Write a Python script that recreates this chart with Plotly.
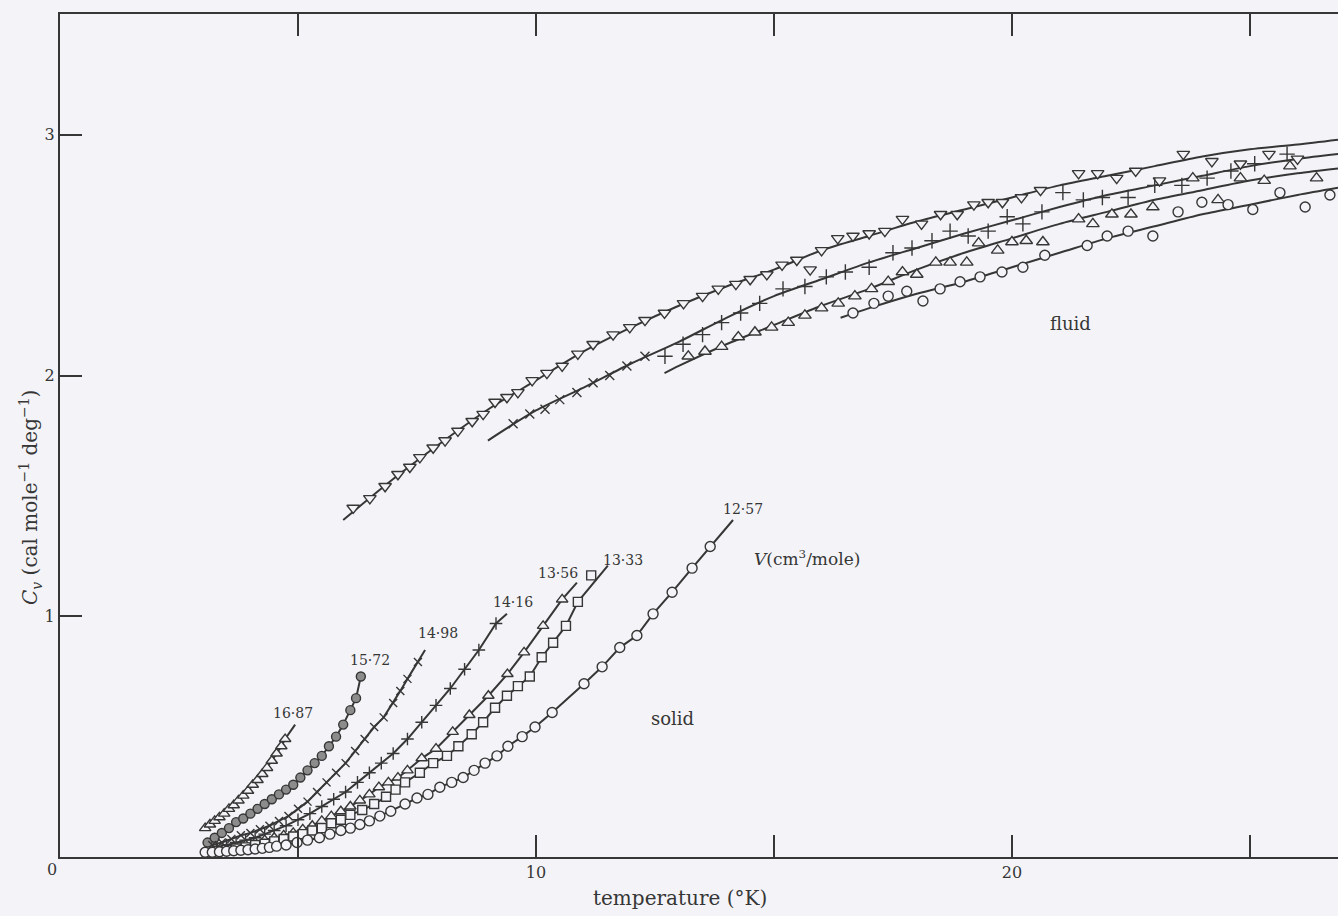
import plotly.graph_objects as go

# ---------------- data ----------------
# solid phase, V = 16.87 cm3/mole (open up-triangles)
s1687_T = [3.05, 3.15, 3.25, 3.35, 3.45, 3.55, 3.65, 3.75, 3.85, 3.95, 4.05, 4.15, 4.25, 4.35, 4.45, 4.55, 4.65, 4.73]
s1687_C = [0.12, 0.135, 0.15, 0.165, 0.18, 0.20, 0.215, 0.235, 0.255, 0.275, 0.30, 0.32, 0.345, 0.37, 0.40, 0.43, 0.46, 0.49]
s1687_end = (4.94, 0.55)

# V = 15.72 (half-filled circles)
s1572_T = [3.1, 3.25, 3.4, 3.55, 3.7, 3.85, 4.0, 4.15, 4.3, 4.45, 4.6, 4.75, 4.9, 5.05, 5.2, 5.35, 5.5, 5.65, 5.8, 5.95, 6.1, 6.22, 6.32]
s1572_C = [0.06, 0.08, 0.10, 0.12, 0.145, 0.16, 0.18, 0.20, 0.22, 0.24, 0.26, 0.28, 0.30, 0.33, 0.36, 0.39, 0.42, 0.46, 0.50, 0.55, 0.61, 0.66, 0.75]
s1572_end = (6.34, 0.76)

# V = 14.98 (x)
s1498_T = [3.2, 3.4, 3.6, 3.8, 4.0, 4.2, 4.4, 4.6, 4.8, 5.0, 5.2, 5.4, 5.6, 5.8, 6.0, 6.2, 6.4, 6.6, 6.8, 7.0, 7.15, 7.3, 7.52]
s1498_C = [0.05, 0.06, 0.075, 0.09, 0.10, 0.115, 0.13, 0.15, 0.17, 0.20, 0.23, 0.27, 0.31, 0.35, 0.39, 0.44, 0.49, 0.54, 0.58, 0.64, 0.69, 0.74, 0.81]
s1498_end = (7.67, 0.86)

# V = 14.16 (+)
s1416_T = [3.3, 3.5, 3.7, 3.9, 4.1, 4.3, 4.5, 4.75, 5.0, 5.25, 5.5, 5.75, 6.0, 6.25, 6.5, 6.75, 7.0, 7.3, 7.6, 7.9, 8.2, 8.5, 8.8, 9.16]
s1416_C = [0.04, 0.05, 0.06, 0.07, 0.08, 0.095, 0.11, 0.13, 0.155, 0.18, 0.21, 0.24, 0.27, 0.31, 0.35, 0.39, 0.43, 0.49, 0.56, 0.63, 0.70, 0.78, 0.86, 0.97]
s1416_end = (9.39, 1.01)

# V = 13.56 (open up-triangles)
s1356_T = [3.3, 3.5, 3.7, 3.9, 4.1, 4.3, 4.5, 4.7, 4.9, 5.1, 5.3, 5.5, 5.7, 5.9, 6.1, 6.3, 6.5, 6.7, 6.9, 7.1, 7.3, 7.6, 7.9, 8.25, 8.6, 9.0, 9.4, 9.75, 10.15, 10.55]
s1356_C = [0.03, 0.035, 0.04, 0.05, 0.06, 0.07, 0.08, 0.09, 0.10, 0.115, 0.13, 0.15, 0.17, 0.19, 0.21, 0.235, 0.26, 0.29, 0.31, 0.33, 0.36, 0.41, 0.45, 0.52, 0.59, 0.67, 0.76, 0.85, 0.96, 1.07]
s1356_end = (10.86, 1.14)

# V = 13.33 (open squares)
s1333_T = [3.3, 3.5, 3.7, 3.9, 4.1, 4.3, 4.5, 4.7, 4.9, 5.1, 5.3, 5.5, 5.7, 5.9, 6.1, 6.35, 6.6, 6.85, 7.05, 7.25, 7.56, 7.84, 8.13, 8.37, 8.65, 8.89, 9.14, 9.39, 9.62, 9.87, 10.12, 10.36, 10.63, 10.88]
s1333_C = [0.025, 0.03, 0.035, 0.04, 0.05, 0.055, 0.065, 0.075, 0.085, 0.095, 0.11, 0.12, 0.14, 0.155, 0.175, 0.195, 0.22, 0.25, 0.28, 0.31, 0.35, 0.39, 0.42, 0.46, 0.51, 0.56, 0.62, 0.67, 0.71, 0.75, 0.83, 0.89, 0.96, 1.06]
s1333_end = (11.51, 1.21)
s1333_extra_T = [11.16]
s1333_extra_C = [1.17]

# V = 12.57 (open circles)
s1257_T = [3.05, 3.2, 3.35, 3.5, 3.65, 3.8, 3.95, 4.1, 4.25, 4.4, 4.55, 4.75, 4.98, 5.2, 5.45, 5.67, 5.9, 6.1, 6.3, 6.5, 6.72, 6.95, 7.25, 7.5, 7.73, 7.98, 8.23, 8.47, 8.70, 8.93, 9.18, 9.41, 9.71, 9.98, 10.34, 11.01, 11.39, 11.76, 12.12, 12.46, 12.86, 13.28, 13.66]
s1257_C = [0.02, 0.02, 0.022, 0.024, 0.026, 0.028, 0.03, 0.033, 0.036, 0.04, 0.045, 0.05, 0.06, 0.07, 0.08, 0.095, 0.11, 0.12, 0.135, 0.15, 0.17, 0.19, 0.22, 0.245, 0.26, 0.29, 0.31, 0.33, 0.36, 0.39, 0.42, 0.46, 0.50, 0.54, 0.60, 0.72, 0.79, 0.87, 0.92, 1.01, 1.10, 1.20, 1.29]
s1257_end = (14.14, 1.40)

# fluid phase: down-triangles
fdn_T = [6.16, 6.51, 6.83, 7.10, 7.35, 7.56, 7.84, 8.09, 8.36, 8.66, 8.89, 9.14, 9.39, 9.62, 9.92, 10.23, 10.55, 10.88, 11.20, 11.62, 11.97, 12.29, 12.70, 13.10, 13.50, 13.83, 14.20, 14.50, 14.85, 15.17, 15.48, 15.76, 16.00, 16.34, 16.66, 17.00, 17.33, 17.70, 18.10, 18.50, 18.85, 19.20, 19.50, 19.80, 20.20, 20.60, 21.40, 21.80, 22.20, 22.60, 23.10, 23.60, 24.20, 24.80, 25.40, 26.00]
fdn_C = [1.45, 1.49, 1.54, 1.59, 1.62, 1.66, 1.70, 1.73, 1.77, 1.81, 1.84, 1.89, 1.91, 1.93, 1.98, 2.01, 2.04, 2.09, 2.13, 2.17, 2.20, 2.23, 2.26, 2.30, 2.33, 2.36, 2.38, 2.40, 2.42, 2.46, 2.48, 2.44, 2.52, 2.57, 2.58, 2.59, 2.60, 2.65, 2.63, 2.67, 2.67, 2.71, 2.72, 2.72, 2.74, 2.77, 2.84, 2.84, 2.82, 2.85, 2.81, 2.92, 2.89, 2.88, 2.92, 2.90]
fit_dn_T = [5.95, 7, 8, 9, 10, 11, 12, 13, 14, 15, 16, 17, 18, 19, 20, 21, 22, 23, 24, 25, 26, 26.85]
fit_dn_C = [1.40, 1.57, 1.72, 1.86, 1.98, 2.10, 2.20, 2.29, 2.37, 2.44, 2.52, 2.58, 2.64, 2.69, 2.74, 2.79, 2.83, 2.87, 2.91, 2.94, 2.96, 2.98]

# fluid: x then + markers
fx_T = [9.52, 9.87, 10.19, 10.50, 10.86, 11.20, 11.55, 11.91, 12.29]
fx_C = [1.80, 1.84, 1.86, 1.90, 1.93, 1.97, 2.00, 2.04, 2.08]
fp_T = [12.71, 13.09, 13.50, 13.90, 14.30, 14.70, 15.19, 15.65, 16.10, 16.50, 17.00, 17.50, 17.90, 18.32, 18.70, 19.08, 19.50, 19.90, 20.23, 20.63, 21.07, 21.50, 21.90, 22.44, 23.00, 23.57, 24.10, 24.60, 25.10, 25.78]
fp_C = [2.08, 2.13, 2.17, 2.22, 2.26, 2.30, 2.36, 2.37, 2.41, 2.43, 2.45, 2.51, 2.53, 2.56, 2.60, 2.58, 2.60, 2.66, 2.63, 2.68, 2.76, 2.73, 2.74, 2.74, 2.79, 2.79, 2.82, 2.85, 2.88, 2.92]
fit_p_T = [8.99, 10, 11, 12, 13, 14, 15, 16, 17, 18, 19, 20, 21, 22, 23, 24, 25, 26, 26.85]
fit_p_C = [1.73, 1.855, 1.95, 2.05, 2.14, 2.24, 2.33, 2.40, 2.47, 2.53, 2.59, 2.645, 2.70, 2.75, 2.79, 2.83, 2.87, 2.90, 2.92]

# fluid: up-triangles
fup_T = [13.20, 13.55, 13.90, 14.25, 14.60, 14.95, 15.30, 15.65, 16.00, 16.35, 16.70, 17.05, 17.40, 17.70, 18.00, 18.40, 18.70, 19.05, 19.30, 19.70, 20.00, 20.30, 20.65, 21.40, 21.70, 22.10, 22.50, 22.96, 23.80, 24.33, 24.80, 25.30, 25.84, 26.40]
fup_C = [2.08, 2.10, 2.12, 2.16, 2.18, 2.20, 2.22, 2.25, 2.28, 2.30, 2.33, 2.36, 2.39, 2.43, 2.42, 2.47, 2.47, 2.47, 2.55, 2.52, 2.555, 2.56, 2.555, 2.65, 2.63, 2.67, 2.67, 2.70, 2.82, 2.73, 2.82, 2.81, 2.87, 2.82]
fit_up_T = [12.7, 13, 14, 15, 16, 17, 18, 19, 20, 21, 22, 23, 24, 25, 26, 26.85]
fit_up_C = [2.01, 2.04, 2.13, 2.21, 2.29, 2.36, 2.44, 2.51, 2.57, 2.63, 2.68, 2.73, 2.77, 2.81, 2.84, 2.86]

# fluid: circles
fo_T = [16.66, 17.10, 17.40, 17.79, 18.13, 18.49, 18.91, 19.33, 19.79, 20.23, 20.69, 21.58, 22.00, 22.44, 22.96, 23.49, 23.99, 24.54, 25.06, 25.63, 26.16, 26.68]
fo_C = [2.26, 2.30, 2.33, 2.35, 2.31, 2.36, 2.39, 2.41, 2.43, 2.45, 2.50, 2.54, 2.58, 2.60, 2.58, 2.68, 2.72, 2.71, 2.69, 2.76, 2.70, 2.75]
fit_o_T = [16.4, 17, 18, 19, 20, 21, 22, 23, 24, 25, 26, 26.85]
fit_o_C = [2.24, 2.28, 2.34, 2.39, 2.45, 2.51, 2.57, 2.62, 2.67, 2.71, 2.75, 2.78]

# curve labels (volume in cm3/mole) and their positions
vol_labels = ["16·87", "15·72", "14·98", "14·16", "13·56", "13·33", "12·57"]
vol_label_T = [4.89, 6.51, 7.94, 9.52, 10.46, 11.83, 14.35]
vol_label_C = [0.60, 0.82, 0.93, 1.06, 1.18, 1.235, 1.446]

x_tickvals = [10, 20]
x_ticktext = ["10", "20"]
x_minor_ticks = [5, 15, 25]
y_tickvals = [1, 2, 3]
y_ticktext = ["1", "2", "3"]

# ---------------- styling ----------------
INK = "#363636"
BG = "#f4f4f8"
FONT = "DejaVu Serif"

fig = go.Figure()


def add_line(xs, ys, shape="linear"):
    fig.add_trace(go.Scatter(x=xs, y=ys, mode="lines",
                             line=dict(color=INK, width=2, shape=shape, smoothing=0.8),
                             hoverinfo="skip", showlegend=False))


def add_markers(xs, ys, symbol, size, fill=BG, lw=1.4):
    fig.add_trace(go.Scatter(x=xs, y=ys, mode="markers",
                             marker=dict(symbol=symbol, size=size, color=fill,
                                         line=dict(color=INK, width=lw)),
                             showlegend=False))


solid = [
    (s1687_T, s1687_C, s1687_end, "triangle-up", 10, BG),
    (s1572_T, s1572_C, s1572_end, "circle", 9, "#8c8c8c"),
    (s1498_T, s1498_C, s1498_end, "x-thin", 8, BG),
    (s1416_T, s1416_C, s1416_end, "cross-thin", 9, BG),
    (s1356_T, s1356_C, s1356_end, "triangle-up", 10, BG),
    (s1333_T, s1333_C, s1333_end, "square", 9, BG),
    (s1257_T, s1257_C, s1257_end, "circle", 10, BG),
]

# lines first
for T, C, end, sym, sz, fill in solid:
    add_line(T + [end[0]], C + [end[1]])
add_line(fit_dn_T, fit_dn_C, "spline")
add_line(fit_p_T, fit_p_C, "spline")
add_line(fit_up_T, fit_up_C, "spline")
add_line(fit_o_T, fit_o_C, "spline")

# markers on top
for T, C, end, sym, sz, fill in solid:
    add_markers(T, C, sym, sz, fill)
add_markers(s1333_extra_T, s1333_extra_C, "square", 9)
add_markers(fdn_T, fdn_C, "triangle-down", 11)
add_markers(fx_T, fx_C, "x-thin", 9)
add_markers(fp_T, fp_C, "cross-thin", 11)
add_markers(fup_T, fup_C, "triangle-up", 11)
add_markers(fo_T, fo_C, "circle", 10)

# ---------------- text ----------------
for lab, tx, cy in zip(vol_labels, vol_label_T, vol_label_C):
    fig.add_annotation(x=tx, y=cy, text=lab, showarrow=False,
                       font=dict(family=FONT, size=14, color=INK))

fig.add_annotation(x=15.69, y=1.242, text="<i>V</i>(cm<sup>3</sup>/mole)", showarrow=False,
                   font=dict(family=FONT, size=17, color=INK))
fig.add_annotation(x=12.86, y=0.577, text="solid", showarrow=False,
                   font=dict(family=FONT, size=18, color=INK))
fig.add_annotation(x=21.22, y=2.218, text="fluid", showarrow=False,
                   font=dict(family=FONT, size=18, color=INK))

fig.add_annotation(xref="paper", yref="paper", x=0.485, y=-0.0486,
                   xanchor="center", yanchor="middle",
                   text="temperature (°K)", showarrow=False,
                   font=dict(family=FONT, size=20, color=INK))
fig.add_annotation(xref="paper", yref="paper", x=-0.0235, y=0.427, textangle=-90,
                   xanchor="center", yanchor="middle",
                   text="<i>C<sub>v</sub></i> (cal mole<sup>−1</sup> deg<sup>−1</sup>)",
                   showarrow=False, font=dict(family=FONT, size=20, color=INK))
fig.add_annotation(xref="paper", yref="paper", x=-0.0063, y=-0.0154, text="0",
                   xanchor="center", yanchor="middle",
                   showarrow=False, font=dict(family=FONT, size=16, color=INK))

fig.update_layout(
    width=1338, height=916,
    margin=dict(l=60, r=0, t=14, b=59),
    paper_bgcolor=BG, plot_bgcolor=BG,
    showlegend=False,
    xaxis=dict(range=[0, 26.85], showgrid=False, zeroline=False,
               showline=True, linecolor=INK, linewidth=2, mirror="allticks",
               ticks="inside", ticklen=22, tickwidth=2, tickcolor=INK,
               tickvals=x_tickvals, ticktext=x_ticktext,
               minor=dict(tickvals=x_minor_ticks, ticks="inside", ticklen=22,
                          tickwidth=2, tickcolor=INK, showgrid=False),
               tickfont=dict(family=FONT, size=16, color=INK)),
    yaxis=dict(range=[0, 3.502], showgrid=False, zeroline=False,
               showline=True, linecolor=INK, linewidth=2, mirror=False,
               ticks="inside", ticklen=22, tickwidth=2, tickcolor=INK,
               tickvals=y_tickvals, ticktext=y_ticktext,
               tickfont=dict(family=FONT, size=16, color=INK)),
)

fig.write_html("out.html")
